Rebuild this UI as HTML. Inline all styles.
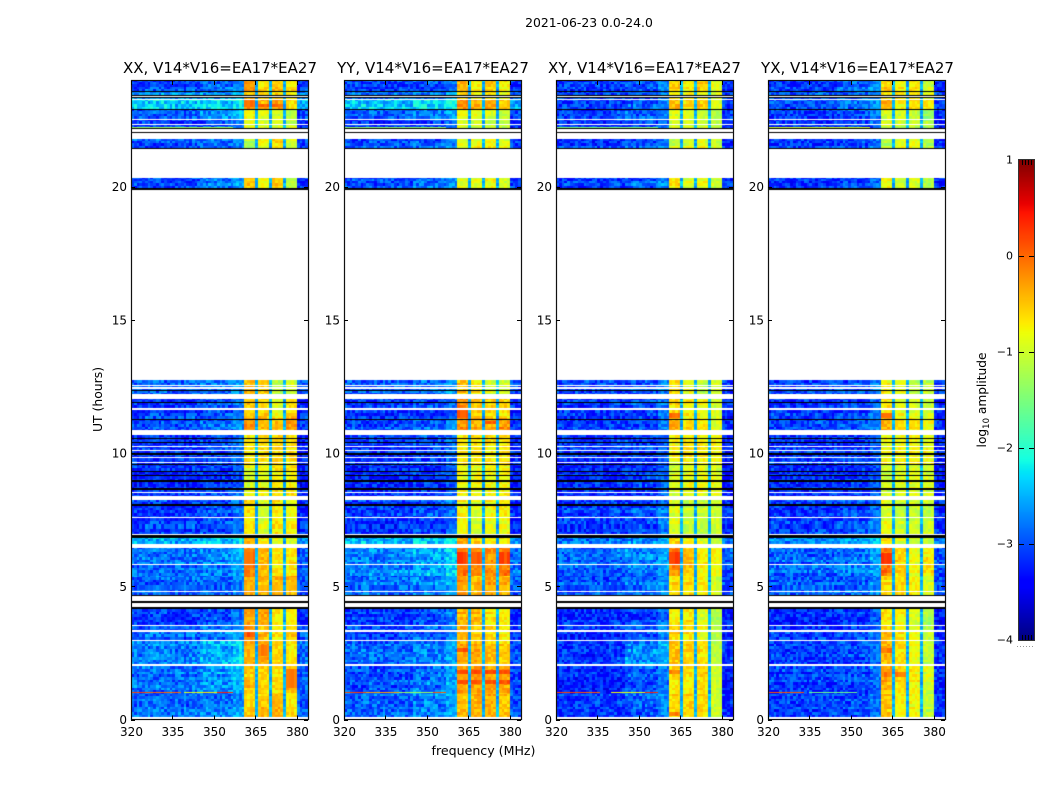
<!DOCTYPE html>
<html lang="en">
<head>
<meta charset="utf-8">
<title>2021-06-23 0.0-24.0</title>
<style>
html,body{margin:0;padding:0;background:#fff;}
#figure{position:relative;width:1050px;height:800px;overflow:hidden;background:#fff;}
canvas{position:absolute;display:block;}
svg{position:absolute;left:0;top:0;}
text{font-family:"DejaVu Sans","Liberation Sans",sans-serif;fill:#000;}
</style>
</head>
<body>
<div id="figure">
  <canvas id="heat0" width="177" height="639" style="left:131px;top:81px"></canvas>
  <canvas id="heat1" width="177" height="639" style="left:344px;top:81px"></canvas>
  <canvas id="heat2" width="177" height="639" style="left:556px;top:81px"></canvas>
  <canvas id="heat3" width="177" height="639" style="left:768px;top:81px"></canvas>
  <canvas id="cbar" width="15" height="480" style="left:1019px;top:160px"></canvas>
  <svg id="overlay" width="1050" height="800" viewBox="0 0 1050 800">
    <text x="589" y="27" text-anchor="middle" font-size="12.4">2021-06-23 0.0-24.0</text>
    <text x="220" y="73" text-anchor="middle" font-size="15">XX, V14*V16=EA17*EA27</text>
    <text x="433" y="73" text-anchor="middle" font-size="15">YY, V14*V16=EA17*EA27</text>
    <text x="644.5" y="73" text-anchor="middle" font-size="15">XY, V14*V16=EA17*EA27</text>
    <text x="857.5" y="73" text-anchor="middle" font-size="15">YX, V14*V16=EA17*EA27</text>
    <text x="483.5" y="755" text-anchor="middle" font-size="12.6">frequency (MHz)</text>
    <text transform="translate(102,399.5) rotate(-90)" text-anchor="middle" font-size="12.4">UT (hours)</text>
    <text transform="translate(986,400) rotate(-90)" text-anchor="middle" font-size="12.2">log<tspan font-size="8.5" dy="3">10</tspan><tspan dy="-3"> amplitude</tspan></text>
  </svg>
</div>
<script>
/* ---- data ---- */
const panelNames = ['XX', 'YY', 'XY', 'YX'];
const xTicks = [320, 335, 350, 365, 380];
const yTicks = [0, 5, 10, 15, 20];
const colorbarTicks = [1, 0, -1, -2, -3, -4];

/* UT start / end of each block of scans */
const segmentStart = [0.08, 1.0, 2.04, 3.0, 3.55, 4.65, 5.4, 6.58, 6.95, 8.22, 9.6, 10.69, 11.3, 12.04, 19.92, 21.42, 22.06, 22.53, 22.9, 23.3, 23.55];
const segmentEnd = [1.0, 2.04, 3.0, 3.55, 4.24, 5.4, 6.45, 6.95, 8.22, 9.6, 10.69, 11.3, 12.04, 12.74, 20.33, 21.8, 22.53, 22.9, 23.3, 23.55, 23.96];

/* log10 amplitude per block: [320-345, 345-357, 361-365, 366-370, 371-375, 376-380 MHz] */
const levelsXX = [
  [-2.85,-2.8,-0.55,-0.5,-0.4,-0.65],[-2.85,-2.65,-0.5,-0.6,-0.65,-0.4],[-2.75,-2.55,-0.4,-0.35,-0.6,-0.7],
  [-2.9,-2.75,-0.15,-0.5,-0.7,-0.6],[-3.1,-3.0,-0.35,-0.35,-0.75,-0.7],[-2.9,-2.85,-0.3,-0.4,-0.4,-0.4],
  [-2.85,-2.75,-0.2,-0.45,-0.7,-0.7],[-2.5,-2.4,-0.4,-0.7,-0.9,-0.9],[-3.1,-3.0,-0.65,-1.0,-0.7,-0.8],
  [-3.2,-3.1,-0.9,-0.85,-0.7,-0.7],[-3.15,-3.05,-0.7,-0.65,-0.6,-0.65],[-3.05,-2.9,-0.25,-0.5,-0.5,-0.3],
  [-3.1,-3.0,-0.5,-0.6,-0.9,-0.6],[-2.95,-2.85,-0.5,-0.6,-1.2,-1.0],[-3.0,-2.8,-0.5,-0.8,-0.5,-1.1],
  [-3.0,-2.85,-1.2,-0.8,-0.6,-1.0],[-3.15,-3.05,-0.9,-1.0,-1.0,-1.1],[-2.95,-2.7,-0.8,-0.9,-1.0,-1.2],
  [-2.35,-2.35,-0.2,-0.4,-0.3,-0.6],[-2.65,-2.65,-0.5,-0.6,-0.6,-0.8],[-3.05,-2.85,-0.2,-0.7,-0.5,-0.7]
];
const levelsYY = [
  [-2.9,-2.75,-0.45,-0.4,-0.4,-0.5],[-3.0,-2.8,-0.3,-0.25,-0.3,-0.3],[-2.9,-2.8,-0.35,-0.4,-0.5,-0.6],
  [-3.0,-2.85,-0.35,-0.5,-0.55,-0.65],[-3.1,-3.0,-0.4,-0.45,-0.7,-0.75],[-2.85,-2.75,-0.25,-0.45,-0.35,-0.4],
  [-2.75,-2.55,-0.1,-0.2,-0.25,-0.15],[-2.5,-2.4,-0.4,-0.6,-0.8,-0.8],[-3.1,-3.0,-0.75,-0.95,-0.8,-0.75],
  [-3.2,-3.15,-0.8,-0.8,-0.8,-0.75],[-3.15,-3.05,-0.7,-0.7,-0.7,-0.7],[-3.0,-2.9,-0.2,-0.35,-0.35,-0.25],
  [-3.1,-3.05,-0.2,-0.5,-0.55,-0.6],[-2.95,-2.85,-0.5,-0.7,-1.0,-1.0],[-3.0,-2.85,-0.9,-0.9,-0.8,-1.0],
  [-3.0,-2.95,-0.9,-0.8,-0.8,-0.9],[-3.15,-3.05,-0.9,-1.0,-1.0,-1.1],[-2.95,-2.8,-0.8,-0.9,-1.0,-1.1],
  [-2.45,-2.35,-0.25,-0.45,-0.4,-0.6],[-2.75,-2.7,-0.5,-0.7,-0.6,-0.8],[-3.05,-2.95,-0.4,-0.7,-0.5,-0.7]
];
const levelsXY = [
  [-3.15,-2.95,-0.65,-0.6,-0.65,-1.05],[-3.2,-2.95,-0.6,-0.7,-0.6,-0.95],[-3.15,-2.7,-0.5,-0.6,-0.65,-1.1],
  [-3.2,-2.95,-0.55,-0.65,-0.85,-1.15],[-3.2,-3.1,-0.75,-0.7,-0.95,-1.2],[-3.0,-2.9,-0.65,-0.65,-0.75,-1.0],
  [-2.9,-2.75,-0.15,-0.5,-0.75,-0.75],[-2.8,-2.7,-0.6,-0.85,-0.95,-1.1],[-3.1,-3.0,-0.9,-1.05,-1.05,-1.0],
  [-3.2,-3.1,-0.95,-0.85,-0.85,-0.9],[-3.15,-3.1,-0.8,-0.7,-0.7,-0.75],[-3.1,-3.0,-0.35,-0.65,-0.65,-0.9],
  [-3.15,-3.05,-0.6,-0.75,-0.8,-0.95],[-3.05,-2.95,-0.6,-0.85,-1.15,-1.0],[-3.1,-2.95,-0.65,-0.95,-0.85,-1.0],
  [-3.1,-3.0,-1.05,-0.95,-0.85,-1.0],[-3.2,-3.1,-1.05,-1.05,-1.05,-1.1],[-3.1,-2.95,-0.95,-0.95,-1.05,-1.2],
  [-3.1,-2.95,-0.45,-0.65,-0.55,-0.9],[-3.0,-2.95,-0.75,-0.75,-0.75,-0.9],[-3.1,-2.95,-0.55,-0.75,-0.55,-0.9]
];
const levelsYX = [
  [-3.1,-3.05,-0.5,-0.8,-0.8,-1.1],[-3.1,-3.05,-0.4,-0.65,-0.75,-0.95],[-3.1,-3.05,-0.45,-0.65,-0.85,-1.05],
  [-3.1,-3.05,-0.5,-0.7,-0.85,-1.1],[-3.2,-3.1,-0.65,-0.75,-0.95,-1.2],[-2.95,-2.9,-0.6,-0.65,-0.75,-0.95],
  [-2.9,-2.8,-0.1,-0.6,-0.85,-0.7],[-2.7,-2.6,-0.7,-0.9,-1.05,-1.1],[-3.1,-3.0,-0.9,-1.05,-1.0,-1.05],
  [-3.2,-3.15,-1.0,-0.95,-0.9,-0.95],[-3.15,-3.15,-0.85,-0.8,-0.8,-0.85],[-3.1,-3.0,-0.45,-0.7,-0.7,-0.9],
  [-3.1,-3.05,-0.6,-0.85,-0.9,-1.0],[-3.05,-2.95,-0.75,-0.9,-1.15,-1.1],[-3.1,-3.0,-0.75,-0.95,-0.9,-1.1],
  [-3.1,-3.0,-1.15,-0.9,-0.85,-1.15],[-3.2,-3.1,-0.95,-1.05,-1.05,-1.2],[-3.1,-2.95,-0.95,-0.95,-1.05,-1.3],
  [-3.0,-2.85,-0.4,-0.75,-0.65,-0.7],[-3.0,-2.95,-0.75,-0.75,-0.75,-1.0],[-3.1,-2.85,-0.55,-0.75,-0.65,-1.0]
];
const panelLevels = [levelsXX, levelsYY, levelsXY, levelsYX];

const notchLevel = -2.5;      /* 365, 370 and 375 MHz band edges */

/* brighter short stretches in the upper bands: UT start, UT end, MHz start, MHz end, log10 amplitude */
const hotXX = [[3.1,3.3,361,365,0.1],[1.2,1.9,376,380,-0.15],[2.4,2.8,366,370,-0.1],[5.7,6.3,361,365,0.0],[23.0,23.25,361,365,0.0],[23.0,23.1,366,375,0.0]];
const hotYY = [[1.35,1.5,361,380,0.1],[1.7,1.85,361,380,0.15],[2.55,2.7,361,365,0.1],[5.8,6.3,361,365,0.2],[5.8,6.3,366,370,0.05],[5.8,6.3,376,380,0.15],[11.3,11.6,361,365,0.05],[11.1,11.2,371,375,0.1]];
const hotXY = [[5.8,6.3,361,365,0.2],[1.7,1.85,361,365,-0.1],[11.3,11.5,361,365,0.0],[0.15,0.3,361,365,-0.1]];
const hotYX = [[5.8,6.25,361,365,0.25],[2.5,2.7,361,365,-0.05],[1.6,1.8,361,370,-0.1],[11.3,11.5,361,365,-0.1]];
const panelHot = [hotXX, hotYY, hotXY, hotYX];

/* narrow flagged strips and lines in UT hours: start, end */
const whiteStrips = [[0,0.08],[2.02,2.07],[2.96,3.0],[3.27,3.35],[3.49,3.53],[4.24,4.39],[4.43,4.63],[4.79,4.83],[5.81,5.85],[6.45,6.58],[6.93,6.97],[7.56,7.6],[8.22,8.37],[8.5,8.54],[9.61,9.65],[9.82,9.86],[10.07,10.11],[10.22,10.26],[10.69,10.88],[11.63,11.67],[12.04,12.22],[12.42,12.46],[12.52,12.56],[22.06,22.14],[22.32,22.36],[22.51,22.55],[23.25,23.3],[23.35,23.4]];
const blackStrips = [[4.15,4.21],[4.39,4.43],[4.63,4.67],[6.82,6.93],[8.03,8.08],[8.6,8.64],[8.65,8.69],[8.93,8.97],[9.15,9.19],[9.3,9.34],[9.55,9.59],[9.93,10.0],[10.36,10.42],[10.52,10.56],[11.25,11.29],[11.86,11.9],[12.32,12.36],[19.86,19.93],[21.4,21.44],[22.0,22.04],[22.14,22.18],[22.88,22.92],[23.33,23.35],[23.4,23.42],[23.53,23.57]];

/* interference streaks: UT, start MHz, end MHz, log10 amplitude */
const streaksXX = [[1.02,320,326,0.2],[1.02,326,338,0.0],[1.02,339,344,-0.9],[1.02,344,351,-0.7],[1.02,351,357,0.35],[22.23,320,357,-1.3]];
const streaksYY = [[1.02,320,328,0.2],[1.02,328,340,-0.3],[1.02,340,352,-1.3],[1.02,352,357,0.1],[22.23,320,357,-1.4]];
const streaksXY = [[1.02,320,329,0.2],[1.02,329,336,0.05],[1.02,340,352,-0.8],[1.02,352,357,0.35],[22.23,320,357,-1.5]];
const streaksYX = [[1.02,320,333,0.1],[1.02,335,352,-1.6],[22.23,320,357,-1.0]];
const panelStreaks = [streaksXX, streaksYY, streaksXY, streaksYX];

/* decorative channel-noise texture (a repeating pattern, not values read per cell) */
const speckle = [0.3,-0.6,0.9,-0.2,0.1,-0.9,0.5,0.7,-0.4,-0.1,0.2,-0.7,1.0,-0.3,0.4,-0.8,0.0,0.6,-0.5,0.8,-0.2,0.3,-1.0,0.5,-0.1,0.7,-0.6,0.1,0.9,-0.4,-0.7,0.4,0.2,-0.3,0.6,-0.9,0.0,0.8,-0.5,0.3,-0.2];

/* ---- scales ---- */
const panelLeft = [131, 344, 556, 768];
const plotTop = 81, plotBottom = 719.5, plotWidth = 177;
const xMin = 320, xMax = 384, yMax = 23.96;
const pxPerHour = 26.65;
function xScale(mhz, left) { return left + (mhz - xMin) * plotWidth / (xMax - xMin); }
function yScale(ut) { return 719.5 - ut * pxPerHour; }

function ramp(x, pts) {
  for (let i = 1; i < pts.length; i++) {
    if (x <= pts[i][0]) {
      const a = pts[i - 1], b = pts[i];
      return a[1] + (b[1] - a[1]) * (x - a[0]) / (b[0] - a[0]);
    }
  }
  return pts[pts.length - 1][1];
}
function jet(v) {
  const n = Math.max(0, Math.min(1, (v + 4) / 5));
  const r = ramp(n, [[0,0],[0.35,0],[0.66,1],[0.89,1],[1,0.5]]);
  const g = ramp(n, [[0,0],[0.125,0],[0.375,1],[0.64,1],[0.91,0],[1,0]]);
  const b = ramp(n, [[0,0.5],[0.11,1],[0.34,1],[0.65,0],[1,0]]);
  return 'rgb(' + Math.round(r * 255) + ',' + Math.round(g * 255) + ',' + Math.round(b * 255) + ')';
}

/* value of one 1 MHz channel given a block's levels */
function channelLevel(row, ch) {
  const f = xMin + ch;
  if (f === 365 || f === 370 || f === 375) return { v: notchLevel, amp: 0.2 };
  if (f < 345) return { v: row[0], amp: 0.38 };
  if (f < 357) return { v: row[1], amp: 0.38 };
  if (f < 361) return { v: row[1] + 0.2, amp: 0.28 };
  if (f < 365) return { v: row[2], amp: 0.2 };
  if (f < 370) return { v: row[3], amp: 0.2 };
  if (f < 375) return { v: row[4], amp: 0.2 };
  if (f < 380) return { v: row[5], amp: 0.2 };
  return { v: row[0] - 0.1, amp: 0.35 };
}
function isNotch(f) { return f === 365 || f === 370 || f === 375; }

/* ---- heatmaps ---- */
panelNames.forEach(function (name, p) {
  const ctx = document.getElementById('heat' + p).getContext('2d');
  const levels = panelLevels[p];
  for (let s = 0; s < segmentStart.length; s++) {
    for (let t = segmentStart[s]; t < segmentEnd[s] - 1e-6; t += 0.1) {
      const tEnd = Math.min(t + 0.1, segmentEnd[s]);
      const y0 = Math.round(yScale(tEnd)) - plotTop;
      const y1 = Math.round(yScale(t)) - plotTop;
      const r = Math.round(t * 10);
      const rowShift = speckle[(r * 7 + p * 3) % speckle.length] * 0.1;
      for (let ch = 0; ch < xMax - xMin; ch++) {
        const c = channelLevel(levels[s], ch);
        const k = (ch * ch * 7 + r * r * 3 + ch * r * 11 + ch * 3 + r + p * 5) % speckle.length;
        ctx.fillStyle = jet(c.v + rowShift + speckle[k] * c.amp);
        const x0 = Math.round(xScale(xMin + ch, 0));
        const x1 = Math.round(xScale(xMin + ch + 1, 0));
        ctx.fillRect(x0, y0, x1 - x0, Math.max(1, y1 - y0));
      }
    }
  }
  panelHot[p].forEach(function (h) {
    const y0 = Math.round(yScale(h[1])) - plotTop;
    const y1 = Math.round(yScale(h[0])) - plotTop;
    for (let f = h[2]; f < h[3]; f++) {
      if (isNotch(f)) continue;
      const k = (f * f * 5 + y0 * 3 + p) % speckle.length;
      ctx.fillStyle = jet(h[4] + speckle[k] * 0.12);
      const x0 = Math.round(xScale(f, 0));
      const x1 = Math.round(xScale(f + 1, 0));
      ctx.fillRect(x0, y0, x1 - x0, Math.max(1, y1 - y0));
    }
  });
  panelStreaks[p].forEach(function (st) {
    ctx.fillStyle = jet(st[3]);
    const x0 = Math.round(xScale(st[1], 0));
    const x1 = Math.round(xScale(st[2], 0));
    ctx.fillRect(x0, Math.round(yScale(st[0])) - plotTop, x1 - x0, 1);
  });
  whiteStrips.forEach(function (b) {
    const y0 = Math.round(yScale(b[1])) - plotTop;
    const y1 = Math.round(yScale(b[0])) - plotTop;
    ctx.clearRect(0, y0, plotWidth, Math.max(1, y1 - y0));
  });
  ctx.fillStyle = '#000';
  blackStrips.forEach(function (b) {
    const y0 = Math.round(yScale(b[1])) - plotTop;
    const y1 = Math.round(yScale(b[0])) - plotTop;
    ctx.fillRect(0, y0, plotWidth, Math.max(1, y1 - y0));
  });
});

/* ---- colorbar gradient ---- */
(function () {
  const ctx = document.getElementById('cbar').getContext('2d');
  for (let i = 0; i < 480; i++) {
    ctx.fillStyle = jet(1 - (i + 0.5) / 480 * 5);
    ctx.fillRect(0, i, 15, 1);
  }
})();

/* ---- axes ---- */
const svgNS = 'http://www.w3.org/2000/svg';
const overlay = document.getElementById('overlay');
function makeLine(x1, y1, x2, y2, color) {
  const el = document.createElementNS(svgNS, 'line');
  el.setAttribute('x1', x1);
  el.setAttribute('y1', y1);
  el.setAttribute('x2', x2);
  el.setAttribute('y2', y2);
  el.setAttribute('stroke', color);
  el.setAttribute('stroke-width', '1');
  overlay.appendChild(el);
  return el;
}
function makeText(x, y, str, anchor, size) {
  const el = document.createElementNS(svgNS, 'text');
  el.setAttribute('x', x);
  el.setAttribute('y', y);
  el.setAttribute('text-anchor', anchor);
  el.setAttribute('font-size', size);
  el.textContent = str;
  overlay.appendChild(el);
  return el;
}
panelNames.forEach(function (name, p) {
  const left = panelLeft[p];
  const right = left + plotWidth;
  const frame = document.createElementNS(svgNS, 'rect');
  frame.setAttribute('x', left + 0.5);
  frame.setAttribute('y', plotTop - 0.5);
  frame.setAttribute('width', plotWidth);
  frame.setAttribute('height', plotBottom - plotTop + 0.5);
  frame.setAttribute('fill', 'none');
  frame.setAttribute('stroke', '#111');
  frame.setAttribute('stroke-width', '1.2');
  
  
  overlay.appendChild(frame);
  xTicks.forEach(function (v) {
    const x = Math.round(xScale(v, left)) + 0.5;
    const tickBottom = makeLine(x, plotBottom, x, plotBottom - 4, '#000');
    
    
    const tickTop = makeLine(x, plotTop, x, plotTop + 4, '#000');
    
    
    const label = makeText(xScale(v, left) + 0.5, 736, String(v), 'middle', 12);
    
    
  });
  yTicks.forEach(function (v) {
    const y = Math.round(yScale(v)) + 0.5;
    const tickLeft = makeLine(left, y, left + 4, y, '#000');
    
    
    const tickRight = makeLine(right, y, right - 4, y, '#000');
    
    
    const label = makeText(left - 4, yScale(v) + 4.5, String(v), 'end', 12);
    
    
  });
});

/* ---- colorbar frame and ticks ---- */
const cbFrame = document.createElementNS(svgNS, 'rect');
cbFrame.setAttribute('x', 1018.5);
cbFrame.setAttribute('y', 159.5);
cbFrame.setAttribute('width', 16);
cbFrame.setAttribute('height', 481);
cbFrame.setAttribute('fill', 'none');
cbFrame.setAttribute('stroke', '#333');
cbFrame.setAttribute('stroke-width', '1');


overlay.appendChild(cbFrame);
colorbarTicks.forEach(function (v) {
  const y = 160 + (1 - v) * 96;
  const rounded = Math.round(y) + 0.5;
  const label = makeText(1013, y + 3.5, v < 0 ? '\u2212' + Math.abs(v) : String(v), 'end', 11);
  
  
  if (v !== 1 && v !== -4) {
    const tickA = makeLine(1019, rounded, 1024, rounded, '#000');
    
    
    const tickB = makeLine(1029, rounded, 1034, rounded, '#000');
    
    
  }
});
[1022, 1025, 1028, 1031].forEach(function (x) {
  const tickTop = makeLine(x + 0.5, 160, x + 0.5, 165, '#000');
  
  
  const tickBottom = makeLine(x + 0.5, 635, x + 0.5, 640, '#000');
  
  
});
const cbDots = makeLine(1017, 646.5, 1035, 646.5, '#999');
cbDots.setAttribute('stroke-dasharray', '1 2');


</script>
</body>
</html>
